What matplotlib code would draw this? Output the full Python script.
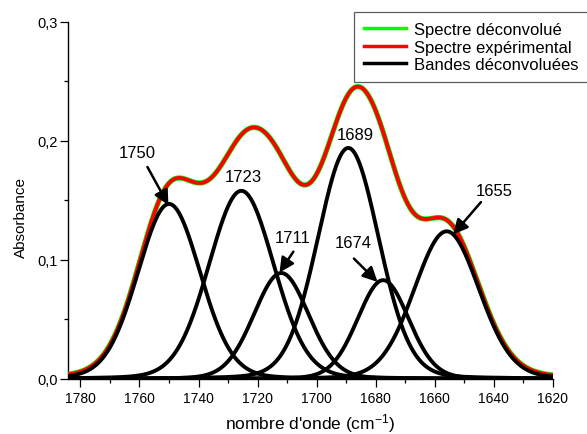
import numpy as np
import matplotlib
matplotlib.use("Agg")
import matplotlib.pyplot as plt
from matplotlib.ticker import MultipleLocator
from matplotlib.lines import Line2D
from matplotlib import font_manager

# ---- data ----
band_centers = [1750.0, 1725.5, 1712.0, 1689.3, 1677.5, 1656.0]   # cm-1
band_amps    = [0.147, 0.158, 0.089, 0.194, 0.083, 0.124]         # absorbance
band_fwhm    = [25.0, 26.0, 22.0, 24.5, 20.5, 26.0]               # cm-1
lorentz_frac = 0.1

band_labels = ["1750", "1723", "1711", "1689", "1674", "1655"]
label_xy = [(1760.9, 0.190), (1724.9, 0.170), (1708.0, 0.1187),
            (1687.0, 0.2052), (1687.6, 0.1145), (1640.0, 0.1585)]
arrow_from = [(1757.3, 0.178), None, (1707.9, 0.1069), None, (1687.4, 0.1011), (1644.4, 0.1485)]
arrow_to   = [(1750.2, 0.1460), None, (1712.6, 0.0894), None, (1679.4, 0.0815), (1653.8, 0.1214)]

x_ticks = [1780, 1760, 1740, 1720, 1700, 1680, 1660, 1640, 1620]
y_ticks = [0.0, 0.1, 0.2, 0.3]
y_ticklabels = ["0,0", "0,1", "0,2", "0,3"]
legend_labels = ["Spectre déconvolué", "Spectre expérimental", "Bandes déconvoluées"]

# ---- figure ----
plt.rcParams['font.family'] = ['Liberation Sans', 'DejaVu Sans']
plt.rcParams['mathtext.fontset'] = 'custom'
plt.rcParams['mathtext.rm'] = 'Liberation Sans'
plt.rcParams['mathtext.it'] = 'Liberation Sans'

narrow = None
try:
    p = font_manager.findfont(font_manager.FontProperties(family='Liberation Sans Narrow'),
                              fallback_to_default=False)
    if 'Narrow' in p:
        narrow = 'Liberation Sans Narrow'
except Exception:
    narrow = None

W, H = 587, 435
fig = plt.figure(figsize=(W / 100, H / 100), dpi=100)
ax = fig.add_axes([67.7 / W, 55 / H, (553 - 67.7) / W, (380 - 22.7) / H])

wn = np.linspace(1790, 1615, 1200)

def band(x, c, a, fw, eta):
    s = fw / 2.3548
    g = np.exp(-(x - c) ** 2 / (2 * s ** 2))
    l = 1.0 / (1.0 + ((x - c) / (fw / 2)) ** 2)
    return a * ((1 - eta) * g + eta * l)

bands = [band(wn, c, a, f, lorentz_frac) for c, a, f in zip(band_centers, band_amps, band_fwhm)]
total = np.sum(bands, axis=0)

ax.plot(wn, total, color='#00ff00', lw=3.8, zorder=3)
ax.plot(wn, total, color='#ff0000', lw=2.8, zorder=4)
for b in bands:
    ax.plot(wn, b, color='black', lw=2.8, zorder=5)

# annotations
for lab, xy, af, at in zip(band_labels, label_xy, arrow_from, arrow_to):
    ax.text(xy[0], xy[1], lab, ha='center', va='center', fontsize=12, zorder=6)
    if af is not None:
        ax.annotate('', xy=at, xytext=af,
                    arrowprops=dict(arrowstyle='-|>', color='black', lw=1.8,
                                    mutation_scale=22, shrinkA=0, shrinkB=0),
                    zorder=6)

ax.set_xlim(1784.3, 1620)
ax.set_ylim(0, 0.3)
ax.set_xticks(x_ticks)
ax.set_xticklabels([str(t) for t in x_ticks])
ax.xaxis.set_minor_locator(MultipleLocator(10))
ax.set_yticks(y_ticks)
ax.set_yticklabels(y_ticklabels)
ax.yaxis.set_minor_locator(MultipleLocator(0.05))

for s in ['top', 'right']:
    ax.spines[s].set_visible(False)
for s in ['left', 'bottom']:
    ax.spines[s].set_linewidth(1.0)
ax.tick_params(which='major', direction='out', length=5.5, width=0.9, labelsize=10, pad=3.5)
ax.tick_params(which='minor', direction='out', length=3.2, width=0.9)
ax.tick_params(axis='y', which='major', pad=1.5, labelsize=10.5)
if narrow:
    for t in ax.get_xticklabels():
        t.set_family([narrow, 'Liberation Sans'])
        t.set_fontsize(11)

ax.set_xlabel("nombre d'onde (cm$^{-1}$)", fontsize=12.5)
ax.set_ylabel("Absorbance", fontsize=11)
ax.xaxis.set_label_coords(0.5, -(412 - 380) / 357.3)
ax.yaxis.set_label_coords((28.2 - 67.7) / 485.3, (380 - 218) / 357.3)

# legend
handles = [Line2D([], [], color='#00ff00', lw=2.5),
           Line2D([], [], color='#ff0000', lw=2.5),
           Line2D([], [], color='black', lw=2.5)]
leg = fig.legend(handles, legend_labels, loc='upper left',
                 bbox_to_anchor=(354 / W, 1 - 13 / H), fontsize=12,
                 frameon=True, fancybox=False, handlelength=2.5, handletextpad=0.5,
                 labelspacing=0.15, borderpad=0.6, borderaxespad=0)
leg.get_frame().set_edgecolor('#333333')
leg.get_frame().set_linewidth(0.9)

fig.savefig('out.png', dpi=100)
